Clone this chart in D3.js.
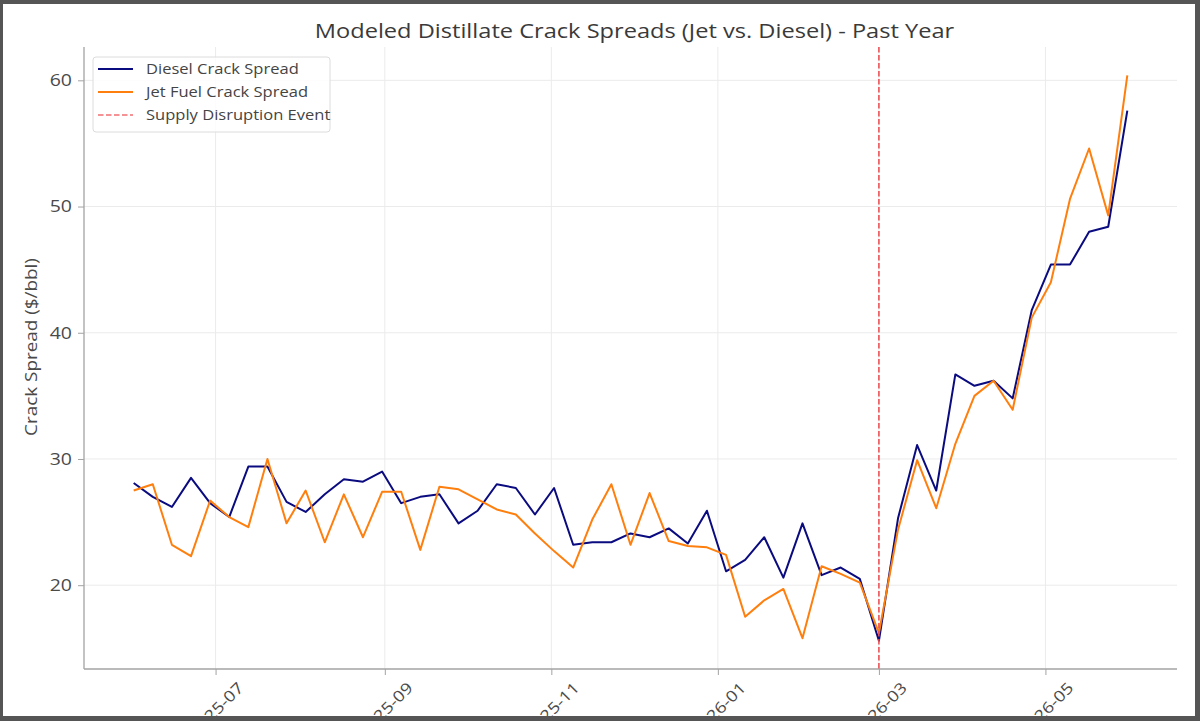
<!DOCTYPE html>
<html>
<head>
<meta charset="utf-8">
<script src="https://cdn.jsdelivr.net/npm/d3@7"></script>
<style>
    body { margin: 0; background: #fff; }
    svg { display: block; font-family: "Open Sans", sans-serif; }
</style>
</head>
<body>
<svg id="chart"></svg>
<script>
// weekly observations (Sundays), June 2025 -> May 2026
const weeks = d3.timeWeek.range(new Date(2025, 5, 1), new Date(2026, 5, 1));

const dieselSpread = [
    28.1, 27.0, 26.2, 28.5, 26.5, 25.4, 29.4, 29.4, 26.6, 25.8,
    27.2, 28.4, 28.2, 29.0, 26.5, 27.0, 27.2, 24.9, 25.9, 28.0,
    27.7, 25.6, 27.7, 23.2, 23.4, 23.4, 24.1, 23.8, 24.5, 23.3,
    25.9, 21.1, 22.0, 23.8, 20.6, 24.9, 20.8, 21.4, 20.5, 15.6,
    25.3, 31.1, 27.5, 36.7, 35.8, 36.2, 34.8, 41.8, 45.4, 45.4,
    48.0, 48.4, 57.6
];

const jetSpread = [
    27.5, 28.0, 23.2, 22.3, 26.7, 25.4, 24.6, 30.0, 24.9, 27.5,
    23.4, 27.2, 23.8, 27.4, 27.4, 22.8, 27.8, 27.6, 26.8, 26.0,
    25.6, 24.1, 22.7, 21.4, 25.2, 28.0, 23.2, 27.3, 23.5, 23.1,
    23.0, 22.4, 17.5, 18.8, 19.7, 15.8, 21.5, 20.9, 20.2, 16.2,
    24.4, 29.9, 26.1, 31.2, 35.0, 36.2, 33.9, 41.2, 44.0, 50.6,
    54.6, 49.3, 60.4
];

const eventDate = new Date(2026, 2, 1);
const seriesNames = ["Diesel Crack Spread", "Jet Fuel Crack Spread"];
const eventName = "Supply Disruption Event";
const yTicks = [20, 30, 40, 50, 60];

// the source font is wider than Open Sans, so texts get stretched a bit
const widen = 1.18;

class CrackChart {
    constructor(_config = {}) {
        this.config = {
            parentElement: _config.parentElement,
            width: 1200,
            height: 721,
            margin: { top: 47, right: 23, bottom: 52, left: 84 },
            title: "Modeled Distillate Crack Spreads (Jet vs. Diesel) - Past Year",
            yLabel: "Crack Spread ($/bbl)",
            colors: ["#0b0b80", "#ff7f0e"],
            eventColor: "#ec4a4f",
            gridColor: "#ebebeb",
            spineColor: "#a3a3a3",
            textColor: "#4a4a4a",
        }
        this.initVis();
    }

    initVis() {
        let vis = this;
        const c = vis.config;
        vis.innerW = c.width - c.margin.left - c.margin.right;
        vis.innerH = c.height - c.margin.top - c.margin.bottom;

        vis.svg = d3.select(c.parentElement)
            .attr('width', c.width)
            .attr('height', c.height);

        // matplotlib style 5% margins on both axes
        const tExt = d3.extent(weeks);
        const tPad = (tExt[1] - tExt[0]) * 0.05;
        vis.xScale = d3.scaleTime()
            .domain([new Date(+tExt[0] - tPad), new Date(+tExt[1] + tPad)])
            .range([0, vis.innerW]);

        const vExt = d3.extent(dieselSpread.concat(jetSpread));
        const vPad = (vExt[1] - vExt[0]) * 0.05;
        vis.yScale = d3.scaleLinear()
            .domain([vExt[0] - vPad, vExt[1] + vPad])
            .range([vis.innerH, 0]);

        vis.chart = vis.svg.append('g')
            .attr('transform', `translate(${c.margin.left},${c.margin.top})`);

        vis.renderVis();
    }

    stretch(sel) {
        sel.each(function () {
            const w = this.getComputedTextLength();
            d3.select(this)
                .attr('textLength', w * widen)
                .attr('lengthAdjust', 'spacingAndGlyphs');
        });
    }

    renderVis() {
        let vis = this;
        const c = vis.config;
        const xTicks = vis.xScale.ticks(d3.timeMonth.every(2));

        // grid
        vis.chart.append('g').selectAll('line.gy')
            .data(yTicks).enter().append('line')
            .attr('x1', 0).attr('x2', vis.innerW)
            .attr('y1', d => vis.yScale(d)).attr('y2', d => vis.yScale(d))
            .attr('stroke', c.gridColor).attr('stroke-width', 1);
        vis.chart.append('g').selectAll('line.gx')
            .data(xTicks).enter().append('line')
            .attr('x1', d => vis.xScale(d)).attr('x2', d => vis.xScale(d))
            .attr('y1', 0).attr('y2', vis.innerH)
            .attr('stroke', c.gridColor).attr('stroke-width', 1);

        // axes
        const yAxis = d3.axisLeft(vis.yScale).tickValues(yTicks).tickSize(6).tickPadding(6);
        const yG = vis.chart.append('g').call(yAxis);
        const xAxis = d3.axisBottom(vis.xScale).tickValues(xTicks).tickSize(6)
            .tickFormat(d3.timeFormat('%Y-%m'));
        const xG = vis.chart.append('g')
            .attr('transform', `translate(0,${vis.innerH})`)
            .call(xAxis);

        [yG, xG].forEach(g => {
            g.select('.domain').attr('stroke', c.spineColor).attr('stroke-width', 1.3);
            g.selectAll('.tick line').attr('stroke', c.spineColor);
        });
        yG.select('.domain').attr('d', `M0,0V${vis.innerH}`);
        xG.select('.domain').attr('d', `M0,0H${vis.innerW}`);
        yG.selectAll('.tick text')
            .style('font-size', '16.5px').attr('fill', c.textColor)
            .style('font-family', '"Open Sans", sans-serif')
            .call(s => vis.stretch(s));
        xG.selectAll('.tick text')
            .style('font-size', '15.5px').attr('fill', c.textColor)
            .style('font-family', '"Open Sans", sans-serif')
            .attr('text-anchor', 'middle')
            .attr('dominant-baseline', 'central')
            .attr('dy', null)
            .attr('y', null)
            .attr('transform', 'translate(0,40) rotate(-45)')
            .call(s => vis.stretch(s));

        // lines
        const series = [dieselSpread, jetSpread];
        const line = d3.line()
            .x((d, i) => vis.xScale(weeks[i]))
            .y(d => vis.yScale(d));
        vis.chart.selectAll('.series')
            .data(series).enter().append('path')
            .attr('class', 'series')
            .attr('d', d => line(d))
            .attr('fill', 'none')
            .attr('stroke', (d, i) => c.colors[i])
            .attr('stroke-width', 2)
            .attr('stroke-linejoin', 'round');

        // event marker
        vis.chart.append('line')
            .attr('x1', vis.xScale(eventDate)).attr('x2', vis.xScale(eventDate))
            .attr('y1', 0).attr('y2', vis.innerH)
            .attr('stroke', c.eventColor).attr('stroke-width', 1.5)
            .attr('stroke-dasharray', '5.5,2.5');

        // title + y label
        vis.svg.append('text')
            .attr('x', c.margin.left + vis.innerW / 2 + 4).attr('y', 38)
            .attr('text-anchor', 'middle')
            .style('font-size', '20px').attr('fill', '#3a3a3a')
            .text(c.title)
            .call(s => vis.stretch(s));
        vis.svg.append('text')
            .attr('transform', `translate(37,${c.margin.top + vis.innerH / 2 - 11}) rotate(-90)`)
            .attr('text-anchor', 'middle')
            .style('font-size', '16px').attr('fill', c.textColor)
            .text(c.yLabel)
            .call(s => vis.stretch(s));

        // legend
        const legend = vis.svg.append('g').attr('transform', 'translate(93,57)');
        legend.append('rect')
            .attr('width', 237).attr('height', 75).attr('rx', 3)
            .attr('fill', '#fff').attr('fill-opacity', 0.85)
            .attr('stroke', '#dcdcdc');
        const items = [
            { name: seriesNames[0], color: c.colors[0], dash: null },
            { name: seriesNames[1], color: c.colors[1], dash: null },
            { name: eventName, color: c.eventColor, dash: '5.5,2.5' },
        ];
        const rows = legend.selectAll('.item').data(items).enter().append('g')
            .attr('transform', (d, i) => `translate(0,${12 + i * 23})`);
        rows.append('line')
            .attr('x1', 5).attr('x2', 40)
            .attr('stroke', d => d.color)
            .attr('stroke-width', 2)
            .attr('stroke-opacity', d => d.dash ? 0.6 : 1)
            .attr('stroke-dasharray', d => d.dash);
        rows.append('text')
            .attr('x', 53).attr('dy', '0.35em')
            .style('font-size', '14px').attr('fill', '#444')
            .text(d => d.name)
            .call(s => vis.stretch(s));

        // grey frame around the picture
        const f = vis.svg.append('g').attr('fill', '#555');
        f.append('rect').attr('x', 0).attr('y', 0).attr('width', c.width).attr('height', 4);
        f.append('rect').attr('x', 0).attr('y', 0).attr('width', 3).attr('height', c.height);
        f.append('rect').attr('x', 1195).attr('y', 0).attr('width', 5).attr('height', c.height);
        f.append('rect').attr('x', 0).attr('y', 716).attr('width', c.width).attr('height', 5);
    }
}

new CrackChart({ parentElement: '#chart' });
</script>
</body>
</html>
